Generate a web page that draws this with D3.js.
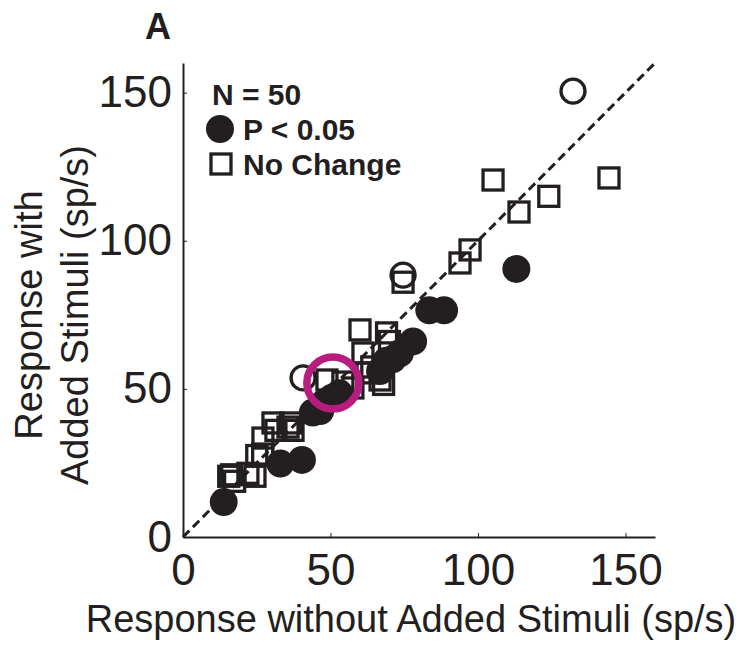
<!DOCTYPE html>
<html>
<head>
<meta charset="utf-8">
<script src="https://cdn.jsdelivr.net/npm/d3@7"></script>
<style>
  body { margin: 0; background: #fff; }
  svg { display: block; font-family: "Liberation Sans", Arial, sans-serif; }
</style>
</head>
<body>
<div id="chart"></div>
<script>
// filled circles: P < 0.05
const sigX = [13.8, 33, 40.3, 44, 46.5, 47.5, 50.5, 53, 66.8, 69, 71, 73.5, 78, 83.5, 88.5, 113];
const sigY = [11.8, 24.8, 26, 42, 42.5, 45, 47, 48.5, 56, 59.5, 60, 62, 66, 76.5, 76.5, 90.5];
// open squares: no change
const ncX = [15.5, 17.5, 16.5, 22, 24.4, 25, 27, 27.1, 30.5, 31.5, 35.6, 37.3, 36.5, 48.8, 54.2, 57.6,
             62.4, 64, 61, 60, 69, 66.8, 68, 70, 74.6, 93.9, 97.3, 105.1, 113.9, 124, 144.4];
const ncY = [20.5, 18.8, 21, 21.5, 20.5, 27.5, 28, 33.4, 38.5, 36, 37.1, 36, 38.5, 53, 52.3, 50.3,
             55.4, 57.4, 62.1, 69.9, 68.9, 53, 51.5, 66, 86, 92.5, 96.9, 120.5, 109.7, 115, 121.2];
// open circles
const openX = [40.7, 74.6, 132.2];
const openY = [53.7, 88.4, 150.5];
// highlighted example cell
const hiX = [50.8];
const hiY = [52];

const ticks = [0, 50, 100, 150];
const domainMax = 160;

const W = 743, H = 648;
const ink = "#231f20";

const svg = d3.select("#chart").append("svg")
    .attr("width", W)
    .attr("height", H);

const x = d3.scaleLinear().domain([0, domainMax]).range([183, 655]);
const y = d3.scaleLinear().domain([0, domainMax]).range([537, 63]);

// axes, ticks point inward
const xAxis = svg.append("g")
    .attr("transform", `translate(0,${y(0)})`)
    .call(d3.axisBottom(x).tickValues(ticks).tickSizeInner(-4).tickSizeOuter(0).tickPadding(17));
const yAxis = svg.append("g")
    .attr("transform", `translate(${x(0)},0)`)
    .call(d3.axisLeft(y).tickValues(ticks).tickSizeInner(-4).tickSizeOuter(0).tickPadding(11));

[xAxis, yAxis].forEach(g => {
    g.select(".domain").attr("stroke", ink).attr("stroke-width", 2);
    g.selectAll(".tick line").attr("stroke", ink).attr("stroke-width", 1);
    g.selectAll(".tick text")
        .attr("fill", ink)
        .style("font-size", "44px")
        .style("font-family", "'Liberation Sans', Arial, sans-serif");
});

// unity line
svg.append("line")
    .attr("x1", x(0)).attr("y1", y(0))
    .attr("x2", x(domainMax)).attr("y2", y(domainMax))
    .attr("stroke", ink)
    .attr("stroke-width", 3)
    .attr("stroke-dasharray", "9,5");

// no change squares
const sq = 20;
svg.append("g").selectAll("rect")
    .data(ncX.map((d, i) => [d, ncY[i]]))
    .enter().append("rect")
    .attr("x", d => x(d[0]) - sq / 2)
    .attr("y", d => y(d[1]) - sq / 2)
    .attr("width", sq)
    .attr("height", sq)
    .attr("fill", "none")
    .attr("stroke", ink)
    .attr("stroke-width", 3.3);

// significant cells
svg.append("g").selectAll("circle")
    .data(sigX.map((d, i) => [d, sigY[i]]))
    .enter().append("circle")
    .attr("cx", d => x(d[0]))
    .attr("cy", d => y(d[1]))
    .attr("r", 14)
    .attr("fill", ink);

// open circles
svg.append("g").selectAll("circle")
    .data(openX.map((d, i) => [d, openY[i]]))
    .enter().append("circle")
    .attr("cx", d => x(d[0]))
    .attr("cy", d => y(d[1]))
    .attr("r", 12)
    .attr("fill", "none")
    .attr("stroke", ink)
    .attr("stroke-width", 3.3);

// magenta highlight
svg.append("g").selectAll("circle")
    .data(hiX.map((d, i) => [d, hiY[i]]))
    .enter().append("circle")
    .attr("cx", d => x(d[0]))
    .attr("cy", d => y(d[1]))
    .attr("r", 26)
    .attr("fill", "none")
    .attr("stroke", "#b71c7e")
    .attr("stroke-width", 7.5);

// axis titles
svg.append("text")
    .attr("x", 411)
    .attr("y", 632)
    .attr("text-anchor", "middle")
    .attr("fill", ink)
    .style("font-size", "38px")
    .text("Response without Added Stimuli (sp/s)");

const yTitle = svg.append("text")
    .attr("transform", "translate(42,315) rotate(-90)")
    .attr("text-anchor", "middle")
    .attr("fill", ink)
    .style("font-size", "38px");
yTitle.append("tspan").attr("x", 0).attr("y", 0).text("Response with");
yTitle.append("tspan").attr("x", 0).attr("y", 46).text("Added Stimuli (sp/s)");

// panel letter
svg.append("text")
    .attr("x", 145)
    .attr("y", 39)
    .attr("fill", ink)
    .style("font-size", "36px")
    .style("font-weight", "bold")
    .text("A");

// legend
const legend = svg.append("g").attr("fill", ink)
    .style("font-size", "30px")
    .style("font-weight", "bold");
legend.append("text").attr("x", 212).attr("y", 105).text("N = 50");
legend.append("circle").attr("cx", 220).attr("cy", 129).attr("r", 14).attr("fill", ink);
legend.append("text").attr("x", 243).attr("y", 140).text("P < 0.05");
legend.append("rect")
    .attr("x", 211).attr("y", 154).attr("width", 20).attr("height", 20)
    .attr("fill", "none").attr("stroke", ink).attr("stroke-width", 3.3);
legend.append("text").attr("x", 243).attr("y", 175).text("No Change");
</script>
</body>
</html>
